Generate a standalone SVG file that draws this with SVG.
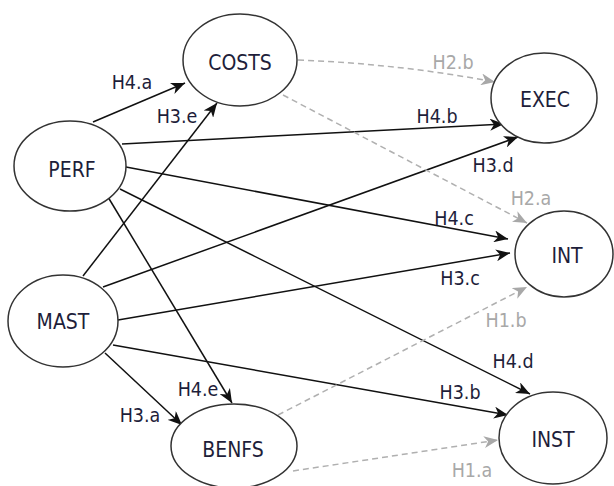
<svg xmlns="http://www.w3.org/2000/svg" width="614" height="486" viewBox="0 0 614 486">
  <defs>
    <marker id="arrow" markerUnits="userSpaceOnUse" viewBox="0 0 14 12" markerWidth="14" markerHeight="12" refX="14" refY="6" orient="auto">
      <path d="M0,0 L14,6 L0,12 L4,6 z" fill="#111"/>
    </marker>
    <marker id="arrow-grey" markerUnits="userSpaceOnUse" viewBox="0 0 14 12" markerWidth="14" markerHeight="12" refX="14" refY="6" orient="auto">
      <path d="M0,0 L14,6 L0,12 L4,6 z" fill="#a8a8a8"/>
    </marker>
    <style>
      .node ellipse { fill: #fff; stroke: #333; stroke-width: 1.5; }
      .node text { font-family: "DejaVu Sans Condensed", "DejaVu Sans", sans-serif; font-size: 21px; fill: #1e1e3a; text-anchor: middle; }
      .edge { fill: none; stroke: #111; stroke-width: 1.5; marker-end: url(#arrow); }
      .edge.dashed { stroke: #b0b0b0; stroke-dasharray: 6 4; marker-end: url(#arrow-grey); }
      .lbl { font-family: "DejaVu Sans Condensed", "DejaVu Sans", sans-serif; font-size: 19.5px; fill: #1e1e3a; text-anchor: middle; }
      .lbl.grey { fill: #a8a8a8; }
    </style>
  </defs>

  <rect width="614" height="486" fill="#fff"/>

  <!-- connectors -->
  <g id="connectors">
    <line class="edge" x1="93" y1="122" x2="185" y2="83"/>
    <line class="edge" x1="83" y1="276" x2="217" y2="103"/>
    <line class="edge" x1="122" y1="144" x2="504" y2="124"/>
    <line class="edge" x1="103" y1="287" x2="518" y2="137"/>
    <line class="edge" x1="126" y1="167" x2="508" y2="239"/>
    <line class="edge" x1="118" y1="320" x2="510" y2="253"/>
    <line class="edge" x1="120" y1="189" x2="530" y2="394"/>
    <line class="edge" x1="113" y1="345" x2="508" y2="415"/>
    <line class="edge" x1="108" y1="197" x2="232" y2="403"/>
    <line class="edge" x1="105" y1="353" x2="182" y2="425"/>
    <path class="edge dashed" d="M298,60 Q400,64 495,82"/>
    <line class="edge dashed" x1="283" y1="95" x2="527" y2="223"/>
    <line class="edge dashed" x1="278" y1="415" x2="527" y2="287"/>
    <line class="edge dashed" x1="293" y1="471" x2="498" y2="440"/>

    <text class="lbl" x="132" y="89">H4.a</text>
    <text class="lbl" x="177" y="123">H3.e</text>
    <text class="lbl" x="437" y="123">H4.b</text>
    <text class="lbl" x="493" y="172">H3.d</text>
    <text class="lbl" x="454" y="225">H4.c</text>
    <text class="lbl" x="460" y="285">H3.c</text>
    <text class="lbl" x="513" y="368">H4.d</text>
    <text class="lbl" x="460" y="399">H3.b</text>
    <text class="lbl" x="198" y="396">H4.e</text>
    <text class="lbl" x="140" y="422">H3.a</text>
    <text class="lbl grey" x="453" y="69">H2.b</text>
    <text class="lbl grey" x="531" y="205">H2.a</text>
    <text class="lbl grey" x="506" y="327">H1.b</text>
    <text class="lbl grey" x="472" y="477">H1.a</text>
  </g>

  <!-- nodes -->
  <g id="costs" class="node">
    <ellipse cx="240" cy="60" rx="57" ry="46"/>
    <text x="240" y="70">COSTS</text>
  </g>
  <g id="exec" class="node">
    <ellipse cx="544" cy="98" rx="53" ry="45"/>
    <text x="545" y="107">EXEC</text>
  </g>
  <g id="perf" class="node">
    <ellipse cx="70" cy="166" rx="56" ry="45"/>
    <text x="72" y="177">PERF</text>
  </g>
  <g id="int" class="node">
    <ellipse cx="564" cy="254" rx="49" ry="43"/>
    <text x="567" y="263">INT</text>
  </g>
  <g id="mast" class="node">
    <ellipse cx="63" cy="321" rx="55" ry="46"/>
    <text x="63" y="329">MAST</text>
  </g>
  <g id="benfs" class="node">
    <ellipse cx="234" cy="446" rx="63" ry="42"/>
    <text x="233" y="457">BENFS</text>
  </g>
  <g id="inst" class="node">
    <ellipse cx="553" cy="438" rx="54" ry="46"/>
    <text x="553" y="447">INST</text>
  </g>
</svg>
